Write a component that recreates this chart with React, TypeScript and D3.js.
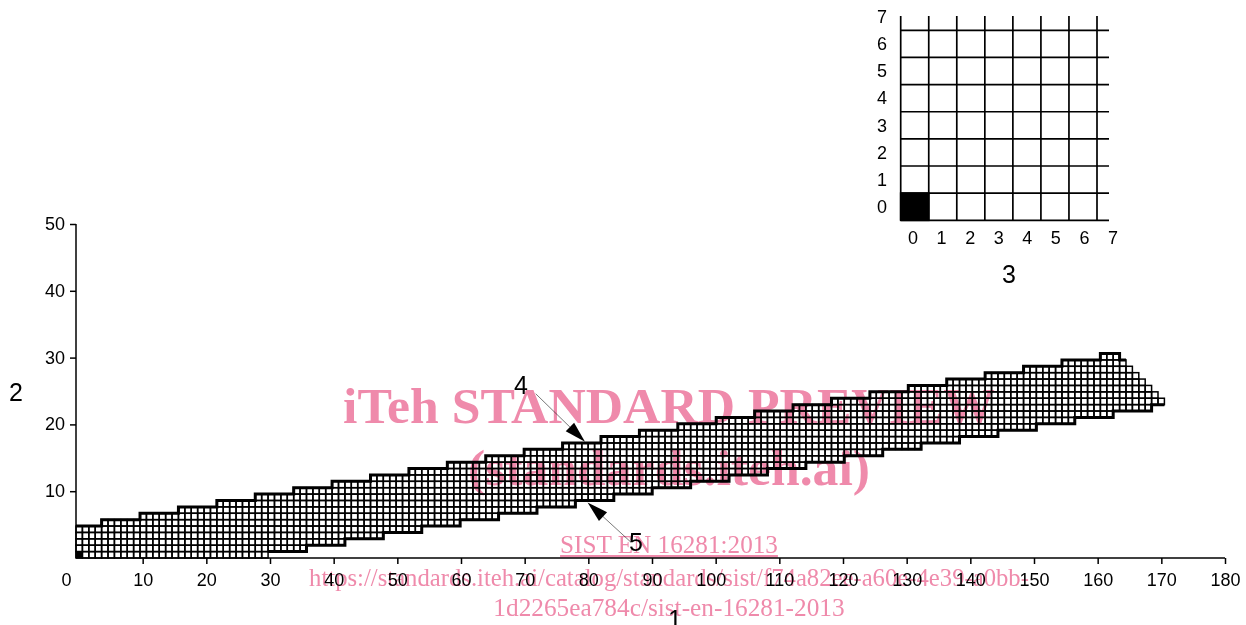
import React, { useEffect, useRef } from "react";
import * as d3 from "d3";

const xTicks = [0, 10, 20, 30, 40, 50, 60, 70, 80, 90, 100, 110, 120, 130, 140, 150, 160, 170, 180];
const yTicks = [10, 20, 30, 40, 50];
const insetTicks = [0, 1, 2, 3, 4, 5, 6, 7];

// upper outline of the cell block: column where a step starts, rows filled up to there
const topCols = [0, 4, 10, 16, 22, 28, 34, 40, 46, 52, 58, 64, 70, 76, 82, 88, 94, 100, 106, 112, 118, 124, 130, 136, 142, 148, 154, 160, 163, 164, 165, 166, 167, 168, 169];
const topRows = [5, 6, 7, 8, 9, 10, 11, 12, 13, 14, 15, 16, 17, 18, 19, 20, 21, 22, 23, 24, 25, 26, 27, 28, 29, 30, 31, 32, 31, 30, 29, 28, 27, 26, 25];
// lower outline
const bottomCols = [0, 30, 36, 42, 48, 54, 60, 66, 72, 78, 84, 90, 96, 102, 108, 114, 120, 126, 132, 138, 144, 150, 156, 162, 168];
const bottomRows = [0, 1, 2, 3, 4, 5, 6, 7, 8, 9, 10, 11, 12, 13, 14, 15, 16, 17, 18, 19, 20, 21, 22, 23, 24];

// callouts in cell units
const callouts = [
  { label: "4", from: [71.8, 25.7], tip: [79.5, 18.2], text: [521, 386] },
  { label: "5", from: [86.7, 2.45], tip: [79.9, 8.7], text: [636, 543] },
];

const watermark = [
  { text: "iTeh STANDARD PREVIEW", y: 423, size: 51.7, weight: "bold" },
  { text: "(standards.iteh.ai)", y: 485, size: 51.7, weight: "bold" },
  { text: "SIST EN 16281:2013", y: 553, size: 25.2, weight: "normal", underline: true },
  { text: "https://standards.iteh.ai/catalog/standards/sist/f74a82ee-a60e-4e39-a0bb-", y: 586, size: 24.7, weight: "normal" },
  { text: "1d2265ea784c/sist-en-16281-2013", y: 616, size: 25.3, weight: "normal" },
];

const SANS = "'Liberation Sans', sans-serif";
const PINK = "#ef8aab";

export default function App() {
  const ref = useRef<SVGSVGElement>(null);

  useEffect(() => {
    const svg = d3.select(ref.current);
    svg.selectAll("*").remove();

    const x = d3.scaleLinear().domain([0, 180]).range([79, 1225]);
    const y = d3.scaleLinear().domain([0, 50]).range([558, 224]);
    const col = d3.scaleLinear().domain([0, 170]).range([76, 1164.4]);
    const row = d3.scaleLinear().domain([0, 32]).range([558, 353.5]);

    // cells
    const topAt = d3.scaleThreshold<number, number>().domain(topCols.slice(1)).range(topRows);
    const bottomAt = d3.scaleThreshold<number, number>().domain(bottomCols.slice(1)).range(bottomRows);
    const cells: { c: number; r: number }[] = [];
    d3.range(0, 170).forEach((c) => {
      d3.range(bottomAt(c), topAt(c)).forEach((r) => cells.push({ c, r }));
    });
    svg
      .append("g")
      .selectAll("rect")
      .data(cells)
      .join("rect")
      .attr("x", (d) => col(d.c))
      .attr("y", (d) => row(d.r + 1))
      .attr("width", col(1) - col(0))
      .attr("height", row(0) - row(1))
      .attr("fill", (d) => (d.c === 0 && d.r === 0 ? "#000" : "none"))
      .attr("stroke", "#000")
      .attr("stroke-width", 1.5);

    // thick outline
    const step = d3
      .line<[number, number]>()
      .x((d) => col(d[0]))
      .y((d) => row(d[1]))
      .curve(d3.curveStepAfter);
    const topLine: [number, number][] = topCols.slice(0, 29).map((c, i) => [c, topRows[i]]);
    topLine.push([164, 31]);
    const bottomLine: [number, number][] = bottomCols.slice(1).map((c, i) => [c, bottomRows[i + 1]]);
    bottomLine.push([170, 24]);
    [topLine, bottomLine].forEach((pts) => {
      svg
        .append("path")
        .attr("d", step(pts))
        .attr("fill", "none")
        .attr("stroke", "#000")
        .attr("stroke-width", 3);
    });

    // axes
    const gx = svg
      .append("g")
      .attr("transform", `translate(0,${y(0)})`)
      .call(
        d3
          .axisBottom(x)
          .tickValues(xTicks)
          .tickFormat((d) => String(d))
          .tickSize(6)
          .tickSizeOuter(0)
      );
    gx.select(".domain").attr("d", `M${col(0)},0H${x(180)}`);
    gx.selectAll(".tick text")
      .attr("dy", "1.05em")
      .attr("dx", (d) => (d === 0 ? -13 : d === 100 ? -5 : 0));
    gx.selectAll(".tick line").filter((d) => d === 0).remove();

    const gy = svg
      .append("g")
      .attr("transform", `translate(${col(0)},0)`)
      .call(
        d3
          .axisLeft(y)
          .tickValues(yTicks)
          .tickFormat((d) => String(d))
          .tickSize(6)
          .tickSizeOuter(0)
      );
    gy.select(".domain").attr("d", `M0,${y(50)}V${y(0)}`);
    gy.selectAll(".tick text").attr("dx", "-2").attr("dy", "0.3em");

    [gx, gy].forEach((g) => {
      g.attr("font-family", SANS).attr("font-size", 18);
      g.selectAll(".domain, .tick line").attr("stroke", "#000").attr("stroke-width", 1.5);
    });

    // inset
    const ix = d3.scaleLinear().domain([0, 7]).range([900.7, 1097]);
    const iy = d3.scaleLinear().domain([0, 7]).range([220.3, 30.3]);
    const ixLabel = d3.scaleLinear().domain([0, 7]).range([913, 1113]);
    const iyLabel = d3.scaleLinear().domain([0, 7]).range([207, 17]);
    const inset = svg.append("g").attr("stroke", "#000").attr("stroke-width", 1.7);
    inset
      .append("rect")
      .attr("x", ix(0))
      .attr("y", iy(1))
      .attr("width", ix(1) - ix(0))
      .attr("height", iy(0) - iy(1))
      .attr("fill", "#000");
    inset
      .selectAll("line.v")
      .data(insetTicks)
      .join("line")
      .attr("class", "v")
      .attr("x1", (d) => ix(d))
      .attr("x2", (d) => ix(d))
      .attr("y1", 16)
      .attr("y2", iy(0));
    inset
      .selectAll("line.h")
      .data(insetTicks)
      .join("line")
      .attr("class", "h")
      .attr("x1", ix(0))
      .attr("x2", 1109)
      .attr("y1", (d) => iy(d))
      .attr("y2", (d) => iy(d));

    const labels = svg.append("g").attr("font-family", SANS).attr("font-size", 18).attr("text-anchor", "middle").attr("fill", "#000");
    labels
      .selectAll("text.ix")
      .data(insetTicks)
      .join("text")
      .attr("class", "ix")
      .attr("x", (d) => ixLabel(d))
      .attr("y", 244)
      .text((d) => d);
    labels
      .selectAll("text.iy")
      .data(insetTicks)
      .join("text")
      .attr("class", "iy")
      .attr("x", 882)
      .attr("y", (d) => iyLabel(d) + 6)
      .text((d) => d);

    // callouts
    callouts.forEach((c) => {
      const x0 = col(c.from[0]);
      const y0 = row(c.from[1]);
      const x1 = col(c.tip[0]);
      const y1 = row(c.tip[1]);
      const a = Math.atan2(y1 - y0, x1 - x0);
      const len = 21;
      const half = 6;
      const bx = x1 - len * Math.cos(a);
      const by = y1 - len * Math.sin(a);
      svg
        .append("line")
        .attr("x1", x0)
        .attr("y1", y0)
        .attr("x2", bx)
        .attr("y2", by)
        .attr("stroke", "#555")
        .attr("stroke-width", 0.8);
      svg
        .append("path")
        .attr(
          "d",
          `M${x1},${y1}L${bx - half * Math.sin(a)},${by + half * Math.cos(a)}L${bx + half * Math.sin(a)},${by - half * Math.cos(a)}Z`
        )
        .attr("fill", "#000");
      svg
        .append("text")
        .attr("x", c.text[0])
        .attr("y", c.text[1] + 8)
        .attr("font-family", SANS)
        .attr("font-size", 25)
        .attr("text-anchor", "middle")
        .text(c.label);
    });

    // axis titles
    [
      { t: "1", px: 675, py: 628 },
      { t: "2", px: 16, py: 401 },
      { t: "3", px: 1009, py: 283 },
    ].forEach((d) => {
      svg
        .append("text")
        .attr("x", d.px)
        .attr("y", d.py)
        .attr("font-family", SANS)
        .attr("font-size", 25)
        .attr("text-anchor", "middle")
        .text(d.t);
    });

    // watermark
    svg
      .append("g")
      .attr("font-family", "'Liberation Serif', serif")
      .attr("text-anchor", "middle")
      .attr("fill", PINK)
      .style("mix-blend-mode", "multiply")
      .selectAll("text")
      .data(watermark)
      .join("text")
      .attr("x", 669)
      .attr("y", (d) => d.y)
      .attr("font-size", (d) => d.size)
      .attr("font-weight", (d) => d.weight)
      .attr("text-decoration", (d) => (d.underline ? "underline" : "none"))
      .text((d) => d.text);
  }, []);

  return (
    <svg
      ref={ref}
      width={1246}
      height={625}
      style={{ position: "absolute", left: 0, top: 0, background: "#fff" }}
    />
  );
}
